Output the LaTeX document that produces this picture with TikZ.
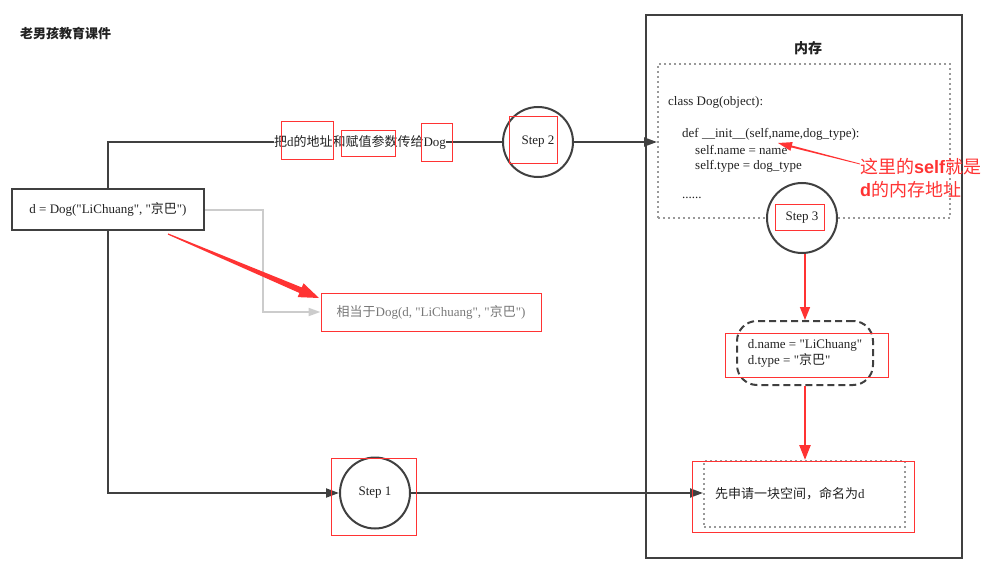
\documentclass[tikz,border=0pt]{standalone}
\usepackage{fontspec}
\setmainfont{Liberation Serif}[Ligatures=TeXOff]
\newfontfamily\cjk{Noto Sans CJK SC}
\newfontfamily\arialf{Liberation Sans}
\usetikzlibrary{arrows.meta,calc,shapes.geometric}
\definecolor{dk}{HTML}{404040}
\definecolor{rd}{HTML}{FF3333}
\definecolor{gl}{HTML}{CCCCCC}
\definecolor{gt}{HTML}{777777}
\definecolor{dotc}{HTML}{999999}
\definecolor{txt}{HTML}{222222}
\newcommand{\zh}[1]{{\cjk #1}}
\begin{document}
\begin{tikzpicture}[x=1pt,y=-1pt, font=\fontsize{13}{16}\selectfont, text=txt,
  conn/.style={draw=dk, line width=2pt},
  arr/.style={conn, -{Triangle[length=13pt,width=9pt]}},
  stepc/.style={circle, draw=dk, line width=2pt, fill=white, minimum size=70pt, inner sep=0pt},
  redbox/.style={draw=rd, line width=1pt},
  codeline/.style={anchor=west, inner sep=0pt},
  anntext/.style={anchor=west, inner sep=0pt, text=rd, font=\fontsize{18}{20}\selectfont},
  dotbox/.style={draw=dotc, line width=2pt, dash pattern=on 2pt off 3pt}]
\useasboundingbox (0,0) rectangle (991,567);

% title
\node[anchor=west, inner sep=0pt, font=\cjk\bfseries\fontsize{13}{16}\selectfont] (title) at (20,33) {老男孩教育课件};

% memory frame
\node[draw=dk, line width=2pt, minimum width=316pt, minimum height=543pt] (mem) at (804,286.5) {};
\node[font=\cjk\bfseries\fontsize{14}{16}\selectfont] (memlbl) at (808,48) {内存};

% code box
\node[dotbox, minimum width=292pt, minimum height=154pt] (codebox) at (804,141) {};
\node[codeline] (code1) at (668,102) {class Dog(object):};
\node[codeline] (code2) at (682,134) {def \_\_init\_\_(self,name,dog\_type):};
\node[codeline] (code3) at (695,150) {self.name = name};
\node[codeline] (code4) at (695,166) {self.type = dog\_type};
\node[codeline] (code5) at (682,198) {......};

% annotation
\node[anntext] (ann1) at (860,167) {\zh{这里的}{\arialf\bfseries self}\zh{就是}};
\node[anntext] (ann2) at (860,190) {{\arialf\bfseries d}\zh{的内存地址}};
\coordinate (st) at ([yshift=3pt]ann1.west);
\coordinate (stip) at (778,143);
\coordinate (sb) at ($(stip)!14pt!(st)$);
\fill[rd] ($(st)!0.4pt!90:(stip)$) -- ($(sb)!1pt!90:(stip)$) -- ($(sb)!4.5pt!90:(stip)$) -- (stip)
  -- ($(sb)!4.5pt!-90:(stip)$) -- ($(sb)!1pt!-90:(stip)$) -- ($(st)!0.4pt!-90:(stip)$) -- cycle;

% left box
\node[draw=dk, line width=2pt, minimum width=192pt, minimum height=41pt, fill=white] (d) at (108,209.5) {d = Dog("LiChuang", "\zh{京巴}")};

% steps
\node[stepc] (s2) at (538,142) {Step 2};
\node[stepc] (s3) at (802,218) {Step 3};
\node[ellipse, draw=dk, line width=2pt, fill=white, minimum width=70pt, minimum height=71pt, inner sep=0pt] (s1) at (375,493) {Step 1};

% label on top connector
\node[fill=white, inner sep=0pt] (lbl) at (360,142) {\zh{把}d\zh{的地址和赋值参数传给}Dog};

% equivalent box
\node[draw=rd, line width=1pt, minimum width=220pt, minimum height=38pt, text=gt] (eq) at (431,312) {\zh{相当于}Dog(d, "LiChuang", "\zh{京巴}")};

% attribute box
\node[draw=dk, line width=2pt, dash pattern=on 7pt off 4pt, rounded corners=20pt, minimum width=136pt, minimum height=64pt, align=left] (rr) at (805,353) {d.name = "LiChuang"\\d.type = "\zh{京巴}"};

% allocation box
\node[dotbox, minimum width=201pt, minimum height=66pt, text width=179pt, align=left, inner xsep=11pt] (prog) at (804.5,494) {\zh{先申请一块空间，命名为}d};

% connectors
\draw[conn] (d.north) |- (lbl.west);
\draw[conn] (lbl.east) -- (s2.west);
\draw[arr] (s2.east) -- (s2.east -| codebox.west);
\draw[arr] (d.south) |- (s1.west);
\draw[arr] (s1.east) -- (s1.east -| prog.west);
\draw[draw=gl, line width=2pt, -{Triangle[length=12pt,width=8pt]}] (d.east) -- ++(58,0) |- (eq.west);
\draw[draw=rd, line width=1.5pt, -{Triangle[length=13pt,width=10pt]}] (rr.north |- s3.south) -- (rr.north);
\draw[draw=rd, line width=2.5pt, -{Triangle[length=15pt,width=11pt]}] (rr.south) -- (rr.south |- prog.north);

% big red pointer arrow
\coordinate (bt) at (168,234);
\coordinate (bp) at (319,298);
\coordinate (bb) at ($(bp)!20pt!(bt)$);
\fill[rd] ($(bt)!0.6pt!90:(bp)$) -- ($(bb)!3pt!90:(bp)$) -- ($(bb)!7.5pt!90:(bp)$) -- (bp)
  -- ($(bb)!7.5pt!-90:(bp)$) -- ($(bb)!3pt!-90:(bp)$) -- ($(bt)!0.6pt!-90:(bp)$) -- cycle;

% red highlight boxes
\draw[redbox] (281,122) rectangle (333,160);
\draw[redbox] (341,131) rectangle (395,157);
\draw[redbox] (421,124) rectangle (452,162);
\draw[redbox] (509,117) rectangle (557,164);
\draw[redbox] (775,204) rectangle (824,230);
\draw[redbox] (331,458) rectangle (416,535);
\draw[redbox] (725,333) rectangle (888,377);
\draw[redbox] (692,461) rectangle (914,532);
\end{tikzpicture}
\end{document}
